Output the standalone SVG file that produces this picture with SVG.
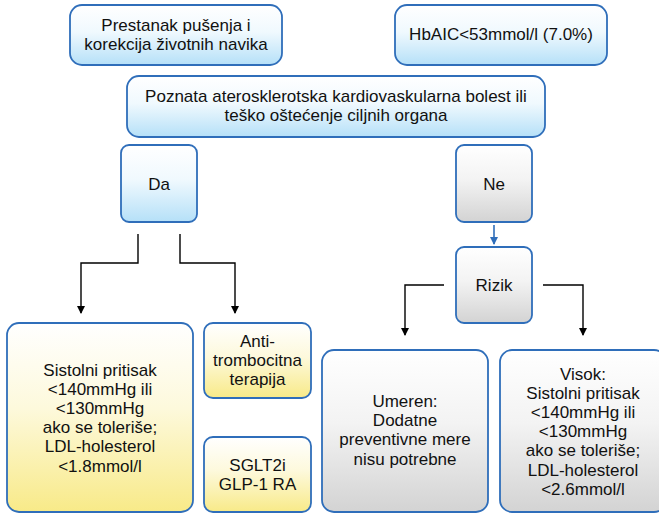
<svg xmlns="http://www.w3.org/2000/svg" width="659" height="516" viewBox="0 0 659 516">
<defs>
<linearGradient id="gBlue" x1="0" y1="0" x2="0" y2="1"><stop offset="0" stop-color="#ffffff"/><stop offset="0.45" stop-color="#f0f9fe"/><stop offset="1" stop-color="#b5e0f8"/></linearGradient>
<linearGradient id="gGray" x1="0" y1="0" x2="0" y2="1"><stop offset="0" stop-color="#ffffff"/><stop offset="0.45" stop-color="#f3f3f3"/><stop offset="1" stop-color="#d3d3d3"/></linearGradient>
<linearGradient id="gYel" x1="0" y1="0" x2="0" y2="1"><stop offset="0" stop-color="#ffffff"/><stop offset="0.45" stop-color="#fdf9dc"/><stop offset="1" stop-color="#f8ea88"/></linearGradient>
<marker id="ak" markerWidth="8" markerHeight="8" refX="7" refY="4" orient="auto" markerUnits="userSpaceOnUse"><path d="M0,0 L8,4 L0,8 Z" fill="#000"/></marker>
<marker id="ab" markerWidth="8" markerHeight="8" refX="7" refY="4" orient="auto" markerUnits="userSpaceOnUse"><path d="M0,0 L8,4 L0,8 Z" fill="#2f6eba"/></marker>
</defs>
<style>
.box{stroke:#2f6eba;stroke-width:1.8}
.b{fill:url(#gBlue)}
.g{fill:url(#gGray)}
.y{fill:url(#gYel)}
text{font-family:"Liberation Sans",Arial,sans-serif;font-size:17px;fill:#111;text-anchor:middle}
.c{fill:none;stroke:#000;stroke-width:1.4}
.cb{fill:none;stroke:#2f6eba;stroke-width:1.6}
</style>
<g id="connectors">
<path class="c" d="M138,234 V263 H81 V313" marker-end="url(#ak)"/>
<path class="c" d="M180,234 V263 H235 V313" marker-end="url(#ak)"/>
<path class="cb" d="M494,225 V244" marker-end="url(#ab)"/>
<path class="c" d="M444,285 H405 V335" marker-end="url(#ak)"/>
<path class="c" d="M543,285 H583 V335" marker-end="url(#ak)"/>
</g>
<g id="n1"><rect class="box b" x="70" y="5" width="212" height="60" rx="12"/><text x="176" y="31">Prestanak pušenja i</text><text x="176" y="50">korekcija životnih navika</text></g>
<g id="n2"><rect class="box b" x="395" y="5" width="212" height="60" rx="12"/><text x="501" y="40">HbAIC&lt;53mmol/l (7.0%)</text></g>
<g id="n3"><rect class="box b" x="127" y="76" width="418" height="61" rx="12"/><text x="336" y="101.5">Poznata aterosklerotska kardiovaskularna bolest ili</text><text x="336" y="121">teško oštećenje ciljnih organa</text></g>
<g id="n4"><rect class="box b" x="121" y="145" width="76" height="77" rx="8"/><text x="159" y="190">Da</text></g>
<g id="n5"><rect class="box g" x="456" y="145" width="76" height="77" rx="8"/><text x="494" y="190">Ne</text></g>
<g id="n6"><rect class="box g" x="456" y="247" width="76" height="76" rx="8"/><text x="494" y="291">Rizik</text></g>
<g id="n7"><rect class="box y" x="7" y="323" width="186" height="189" rx="12"/>
<text x="100" y="375.5">Sistolni pritisak</text><text x="100" y="394.7">&lt;140mmHg ili</text><text x="100" y="413.9">&lt;130mmHg</text><text x="100" y="433.1">ako se toleriše;</text><text x="100" y="452.3">LDL-holesterol</text><text x="100" y="471.5">&lt;1.8mmol/l</text></g>
<g id="n8"><rect class="box y" x="204" y="323" width="107" height="75" rx="9"/><text x="257.5" y="346.5">Anti-</text><text x="257.5" y="365.7">trombocitna</text><text x="257.5" y="384.9">terapija</text></g>
<g id="n9"><rect class="box y" x="204" y="437" width="107" height="75" rx="9"/><text x="257.5" y="471">SGLT2i</text><text x="257.5" y="490.2">GLP-1 RA</text></g>
<g id="n10"><rect class="box g" x="322" y="350" width="166" height="162" rx="12"/><text x="405" y="407">Umeren:</text><text x="405" y="426.2">Dodatne</text><text x="405" y="445.4">preventivne mere</text><text x="405" y="464.6">nisu potrebne</text></g>
<g id="n11"><rect class="box g" x="500" y="350" width="166" height="162" rx="12"/><text x="583" y="379.5">Visok:</text><text x="583" y="398.7">Sistolni pritisak</text><text x="583" y="417.9">&lt;140mmHg ili</text><text x="583" y="437.1">&lt;130mmHg</text><text x="583" y="456.3">ako se toleriše;</text><text x="583" y="475.5">LDL-holesterol</text><text x="583" y="494.7">&lt;2.6mmol/l</text></g>
</svg>
